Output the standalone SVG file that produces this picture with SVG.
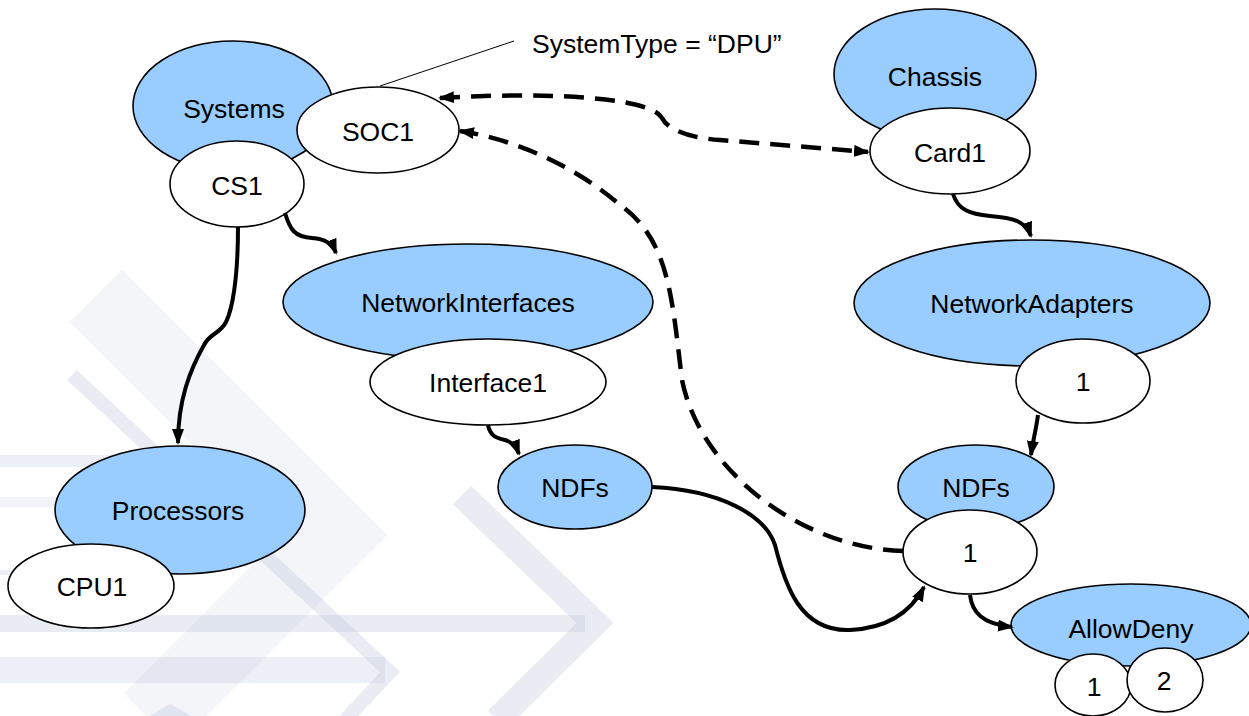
<svg xmlns="http://www.w3.org/2000/svg" width="1249" height="716" viewBox="0 0 1249 716">
<style>
.blue{fill:#99ccff;stroke:#000;stroke-width:1.6}
.white{fill:#fff;stroke:#000;stroke-width:1.6}
.lbl{font-family:"Liberation Sans",Arial,sans-serif;font-size:26.5px;fill:#000;text-anchor:middle}
.note{font-family:"Liberation Sans",Arial,sans-serif;font-size:26.5px;fill:#000}
.solid{fill:none;stroke:#000;stroke-width:4;marker-end:url(#ah)}
.dash{fill:none;stroke:#000;stroke-width:4.5;stroke-dasharray:20 11}
.bg{fill:none;stroke:#b9c1da;stroke-linejoin:miter;stroke-linecap:butt}
.bgr{fill:#b9c1da}
</style>
<defs>
<marker id="ah" markerWidth="16" markerHeight="12" refX="14" refY="6" orient="auto" markerUnits="userSpaceOnUse">
<path d="M0,0 L16,6 L0,12 Z" fill="#000"/>
</marker>
<marker id="ahs" markerWidth="16" markerHeight="12" refX="2" refY="6" orient="auto" markerUnits="userSpaceOnUse">
<path d="M16,0 L0,6 L16,12 Z" fill="#000"/>
</marker>
</defs>
<rect width="1249" height="716" fill="#fff"/>
<g id="background">
<polyline class="bg" stroke-opacity="0.17" stroke-width="74" points="96,296 335,535 150,720"/>
<polyline class="bg" stroke-opacity="0.3" stroke-width="14" points="72,375 390,672 345,720"/>
<polyline class="bg" stroke-opacity="0.3" stroke-width="26" points="462,495 595,623 497,720"/>
<rect class="bgr" fill-opacity="0.3" x="0" y="615" width="585" height="17"/>
<rect class="bgr" fill-opacity="0.25" x="0" y="657" width="385" height="26"/>
<rect class="bgr" fill-opacity="0.25" x="0" y="455" width="120" height="12"/>
<rect class="bgr" fill-opacity="0.2" x="0" y="497" width="80" height="10"/>
<rect class="bgr" fill-opacity="0.25" x="0" y="570" width="30" height="5"/>
<polygon class="bgr" fill-opacity="0.3" points="150,716 170,704 192,716"/>
</g>
<g id="annotation">
<line x1="380" y1="86" x2="514" y2="41" stroke="#000" stroke-width="1"/>
<text class="note" x="532" y="53">SystemType = “DPU”</text>
</g>
<g id="systems"><ellipse class="blue" cx="233" cy="106" rx="100" ry="65"/><text class="lbl" x="234" y="118">Systems</text></g>
<g id="soc1"><ellipse class="white" cx="378" cy="130" rx="81" ry="43"/><text class="lbl" x="378" y="141">SOC1</text></g>
<g id="cs1"><ellipse class="white" cx="237" cy="184" rx="67" ry="43"/><text class="lbl" x="237" y="195">CS1</text></g>
<g id="networkinterfaces"><ellipse class="blue" cx="468" cy="302" rx="185" ry="58"/><text class="lbl" x="468" y="312">NetworkInterfaces</text></g>
<g id="interface1"><ellipse class="white" cx="488" cy="382" rx="118" ry="43"/><text class="lbl" x="488" y="392">Interface1</text></g>
<g id="ndfs-left"><ellipse class="blue" cx="575" cy="487" rx="77" ry="42"/><text class="lbl" x="575" y="497">NDFs</text></g>
<g id="processors"><ellipse class="blue" cx="180" cy="510" rx="125" ry="64"/><text class="lbl" x="178" y="520">Processors</text></g>
<g id="cpu1"><ellipse class="white" cx="91" cy="586" rx="83" ry="42"/><text class="lbl" x="92" y="596">CPU1</text></g>
<g id="chassis"><ellipse class="blue" cx="935" cy="74" rx="101" ry="65"/><text class="lbl" x="935" y="86">Chassis</text></g>
<g id="card1"><ellipse class="white" cx="950" cy="151" rx="80" ry="43"/><text class="lbl" x="950" y="162">Card1</text></g>
<g id="networkadapters"><ellipse class="blue" cx="1032" cy="303" rx="178" ry="63"/><text class="lbl" x="1032" y="313">NetworkAdapters</text></g>
<g id="na-1"><ellipse class="white" cx="1083" cy="381" rx="67" ry="42"/><text class="lbl" x="1083" y="391">1</text></g>
<g id="ndfs-right"><ellipse class="blue" cx="976" cy="487" rx="78" ry="42"/><text class="lbl" x="976" y="497">NDFs</text></g>
<g id="ndf-1"><ellipse class="white" cx="970" cy="552" rx="67" ry="42"/><text class="lbl" x="970" y="562">1</text></g>
<g id="allowdeny"><ellipse class="blue" cx="1131" cy="625" rx="120" ry="41"/><text class="lbl" x="1131" y="638">AllowDeny</text></g>
<g id="ad-1"><ellipse class="white" cx="1093" cy="685" rx="38" ry="31"/><text class="lbl" x="1094" y="696">1</text></g>
<g id="ad-2"><ellipse class="white" cx="1165" cy="680" rx="38" ry="32"/><text class="lbl" x="1164" y="690">2</text></g>
<g id="connectors">
<path class="dash" d="M440,98 C540,92 650,96 662,118 C668,130 690,138 720,140 L868,152" marker-start="url(#ahs)" marker-end="url(#ah)"/>
<path class="dash" d="M903,551 C800,548 700,470 682,380 C672,300 670,240 620,205 C580,170 520,140 460,131" marker-end="url(#ah)"/>
<path class="solid" d="M238,227 C238,280 232,310 226,322 C220,334 210,333 204,345 C190,370 178,400 178,443"/>
<path class="solid" d="M285,213 C290,230 295,237 312,238 C325,239 332,243 336,253"/>
<path class="solid" d="M488,425 C490,435 495,438 505,440 C512,442 516,446 519,454"/>
<path class="solid" d="M652,487 C720,490 765,515 775,545 C785,585 800,632 850,630 C890,628 912,610 924,587"/>
<path class="solid" d="M953,194 C958,210 970,214 990,216 C1015,218 1026,222 1031,236"/>
<path class="solid" d="M1038,415 C1036,430 1033,440 1031,455"/>
<path class="solid" d="M970,595 C972,612 982,624 1012,627"/>
</g>
</svg>
